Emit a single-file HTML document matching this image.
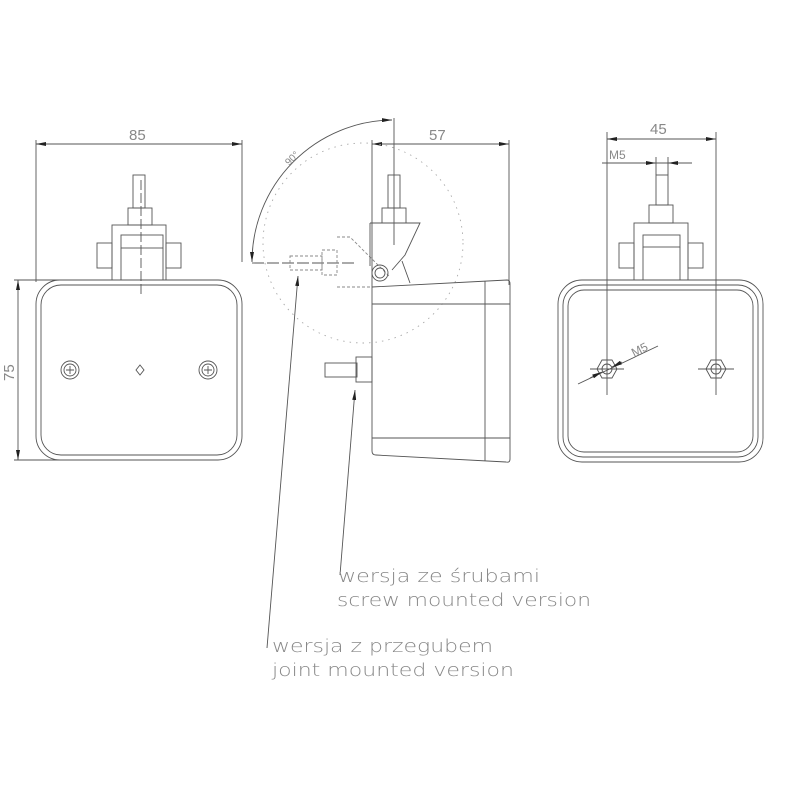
<!DOCTYPE html>
<html><head><meta charset="utf-8"><style>body{margin:0;background:#fff}</style></head><body>
<svg width="800" height="800" viewBox="0 0 800 800" xmlns="http://www.w3.org/2000/svg" font-family="Liberation Sans, sans-serif">
<rect width="800" height="800" fill="#fff"/>
<defs>
<marker id="a" viewBox="0 0 10 4" refX="10" refY="2" markerWidth="10" markerHeight="4" orient="auto-start-reverse" markerUnits="userSpaceOnUse"><path d="M0,0L10,2L0,4z" fill="#222"/></marker>
</defs>
<g stroke="#555" stroke-width="0.9" fill="none">
<!-- LEFT VIEW -->
<line x1="36" y1="140" x2="36" y2="282"/><line x1="242" y1="140" x2="242" y2="262"/>
<line x1="36" y1="144" x2="242" y2="144" marker-start="url(#a)" marker-end="url(#a)"/>
<line x1="14" y1="280" x2="60" y2="280"/><line x1="14" y1="460" x2="60" y2="460"/>
<line x1="18" y1="280" x2="18" y2="460" marker-start="url(#a)" marker-end="url(#a)"/>
<rect x="36" y="280" width="206" height="180" rx="24"/>
<rect x="41" y="285" width="196" height="170" rx="20"/>
<rect x="133" y="175" width="12" height="33"/>
<rect x="128" y="208" width="24" height="17"/>
<rect x="112" y="225" width="54" height="55"/>
<rect x="121" y="235" width="42" height="13"/><line x1="121" y1="248" x2="121" y2="280"/><line x1="163" y1="248" x2="163" y2="280"/>
<rect x="97" y="243" width="15" height="25"/><rect x="166" y="243" width="15" height="25"/>
<line x1="141" y1="180" x2="141" y2="296" stroke-dasharray="10,3"/>
<circle cx="70" cy="370" r="9"/><circle cx="70" cy="370" r="6"/><path d="M66 370h8M70 366v8"/>
<circle cx="208" cy="370" r="9"/><circle cx="208" cy="370" r="6"/><path d="M204 370h8M208 366v8"/>
<path d="M140 365l4 5l-4 5l-4-5z"/>
<!-- MIDDLE VIEW -->
<line x1="372" y1="140" x2="372" y2="287"/><line x1="509" y1="140" x2="509" y2="285"/>
<line x1="372" y1="144" x2="509" y2="144" marker-start="url(#a)" marker-end="url(#a)"/>
<line x1="394" y1="118" x2="394" y2="245"/>
<path d="M392 120 A142 142 0 0 0 252 262" marker-start="url(#a)" marker-end="url(#a)"/>
<circle cx="363" cy="243" r="100" stroke="#aaa" stroke-dasharray="1.5,5"/>
<line x1="252" y1="263" x2="356" y2="263" stroke-dasharray="12,3"/>
<g stroke="#888" stroke-dasharray="3,2"><rect x="290" y="256" width="32" height="14"/><rect x="322" y="250" width="15" height="25"/><path d="M337 237h13l40 40M337 287h35"/></g>
<path d="M372 287L507 280Q510 280 510 284L510 459Q510 463 506 462L376 455Q372 455 372 451Z"/>
<line x1="485" y1="281" x2="485" y2="461"/><line x1="372" y1="304" x2="510" y2="304"/><line x1="372" y1="438" x2="510" y2="438"/>
<rect x="388" y="175" width="12" height="33"/><rect x="382" y="208" width="24" height="15"/>
<path d="M370 223H420L405 255L392 270M370 223V266"/><path d="M402 261L410 283"/>
<circle cx="380" cy="273" r="8"/><circle cx="380" cy="273" r="5"/>
<rect x="325" y="363" width="32" height="14"/><rect x="356" y="357" width="16" height="25"/>
<line x1="340" y1="575" x2="355" y2="390" marker-end="url(#a)"/>
<line x1="267" y1="648" x2="298" y2="276" marker-end="url(#a)"/>
<!-- RIGHT VIEW -->
<line x1="607" y1="132" x2="607" y2="395"/><line x1="716" y1="132" x2="716" y2="395"/>
<line x1="607" y1="139" x2="716" y2="139" marker-start="url(#a)" marker-end="url(#a)"/>
<line x1="602" y1="163" x2="692" y2="163"/>
<line x1="640" y1="163" x2="656" y2="163" marker-end="url(#a)"/><line x1="684" y1="163" x2="668" y2="163" marker-end="url(#a)"/>
<line x1="656" y1="157" x2="656" y2="175"/><line x1="668" y1="157" x2="668" y2="175"/>
<rect x="558" y="280" width="205" height="182" rx="24"/>
<rect x="563" y="285" width="195" height="172" rx="20"/>
<rect x="568" y="290" width="185" height="162" rx="16"/>
<rect x="656" y="175" width="12" height="30"/><rect x="649" y="205" width="24" height="18"/>
<rect x="634" y="223" width="54" height="57"/>
<rect x="643" y="235" width="37" height="12"/><line x1="643" y1="247" x2="643" y2="280"/><line x1="680" y1="247" x2="680" y2="280"/>
<rect x="619" y="243" width="15" height="25"/><rect x="688" y="243" width="15" height="25"/>
<path d="M597 369l5-9h10l5 9l-5 9h-10z"/><circle cx="607" cy="369" r="5"/>
<path d="M706 369l5-9h10l5 9l-5 9h-10z"/><circle cx="716" cy="369" r="5"/>
<path d="M590 369h34M698 369h36"/>
<line x1="578" y1="384" x2="658" y2="346"/>
<line x1="590" y1="378" x2="602" y2="372" marker-end="url(#a)"/><line x1="622" y1="362" x2="612" y2="367" marker-end="url(#a)"/>
</g>
<g fill="#888" font-size="15">
<text x="129" y="140">85</text>
<text x="429" y="140">57</text>
<text x="650" y="134">45</text>
<text x="609" y="159" font-size="12">M5</text>
<text transform="translate(14,381) rotate(-90)">75</text>
<text transform="translate(289,166) rotate(-45)" font-size="10">90°</text>
<text transform="translate(634,357) rotate(-27)" font-size="12">M5</text>
</g>
<g fill="#888" font-size="18" font-family="DejaVu Sans, sans-serif" font-weight="200">
<text x="338" y="582" textLength="202" lengthAdjust="spacingAndGlyphs">wersja ze śrubami</text>
<text x="337" y="606" textLength="254" lengthAdjust="spacingAndGlyphs">screw mounted version</text>
<text x="272" y="652" textLength="221" lengthAdjust="spacingAndGlyphs">wersja z przegubem</text>
<text x="272" y="676" textLength="242" lengthAdjust="spacingAndGlyphs">joint mounted version</text>
</g>
</svg>
</body></html>
